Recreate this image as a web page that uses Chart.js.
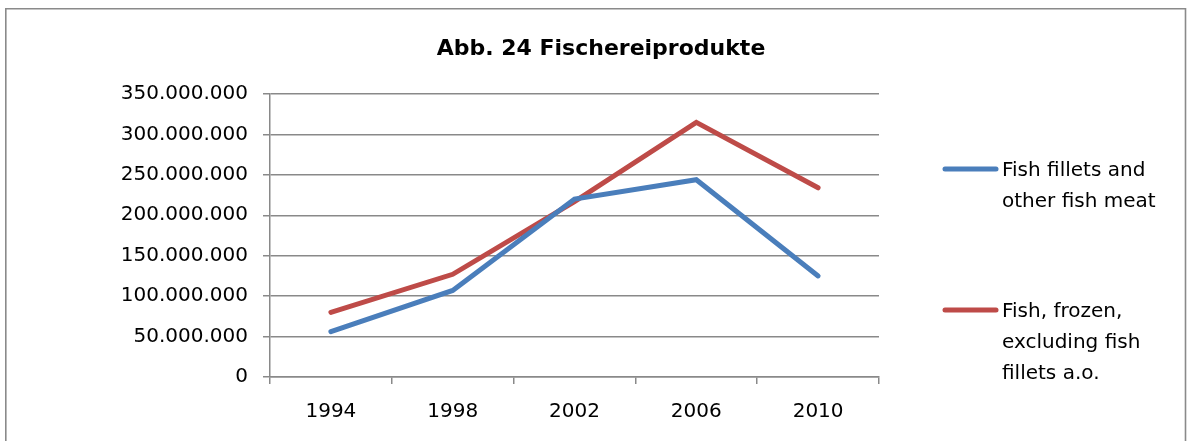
<!DOCTYPE html>
<html>
<head>
<meta charset="utf-8">
<script src="https://cdn.jsdelivr.net/npm/chart.js@4/dist/chart.umd.min.js"></script>
<style>
  html, body { margin: 0; padding: 0; background: #ffffff; }
  #wrap { width: 1189px; height: 441px; position: relative; }
</style>
</head>
<body>
<div id="wrap"><canvas id="c" width="1189" height="441"></canvas></div>
<script>
// ---- data ----
const categories = ['1994', '1998', '2002', '2006', '2010'];
const filletsValues = [56000000, 107000000, 220000000, 244000000, 125000000];
const frozenValues = [80000000, 127000000, 217000000, 315000000, 234000000];
const filletsLabel = ['Fish fillets and', 'other fish meat'];
const frozenLabel = ['Fish, frozen,', 'excluding fish', 'fillets a.o.'];
const titleText = 'Abb. 24 Fischereiprodukte';
const yMax = 350000000;
const yStep = 50000000;

const FONT = '"DejaVu Sans", "Liberation Sans", sans-serif';
const GRID = '#898989';

function fmt(v) {
  return String(Math.round(v)).replace(/\B(?=(\d{3})+(?!\d))/g, '.');
}

const decor = {
  id: 'decor',
  beforeDraw(chart) {
    const ctx = chart.ctx;
    ctx.save();
    ctx.fillStyle = '#ffffff';
    ctx.fillRect(0, 0, chart.width, chart.height);
    ctx.strokeStyle = '#8a8a8a';
    ctx.lineWidth = 1.6;
    ctx.beginPath();
    ctx.moveTo(5.8, 445);
    ctx.lineTo(5.8, 8.8);
    ctx.lineTo(1185.5, 8.8);
    ctx.lineTo(1185.5, 445);
    ctx.stroke();
    ctx.restore();
  },
  afterDraw(chart) {
    const ctx = chart.ctx;
    ctx.save();
    // title
    ctx.fillStyle = '#000000';
    ctx.font = 'bold 22px ' + FONT;
    ctx.textAlign = 'center';
    ctx.textBaseline = 'middle';
    ctx.fillText(titleText, 601, 49);
    // legend
    const items = [
      { lines: chart.data.datasets[0].label, color: chart.data.datasets[0].borderColor, y: 169 },
      { lines: chart.data.datasets[1].label, color: chart.data.datasets[1].borderColor, y: 310 }
    ];
    ctx.font = '20px ' + FONT;
    ctx.textAlign = 'left';
    items.forEach(it => {
      ctx.strokeStyle = it.color;
      ctx.lineWidth = 5;
      ctx.lineCap = 'round';
      ctx.beginPath();
      ctx.moveTo(945, it.y);
      ctx.lineTo(996, it.y);
      ctx.stroke();
      ctx.fillStyle = '#000000';
      it.lines.forEach((ln, i) => ctx.fillText(ln, 1002, it.y + 2 + i * 31));
    });
    ctx.restore();
  }
};

new Chart(document.getElementById('c'), {
  type: 'line',
  data: {
    labels: categories,
    datasets: [
      {
        label: filletsLabel,
        data: filletsValues,
        borderColor: '#4A7EBB',
        backgroundColor: '#4A7EBB',
        borderWidth: 5,
        pointRadius: 0,
        tension: 0,
        borderCapStyle: 'round',
        borderJoinStyle: 'miter'
      },
      {
        label: frozenLabel,
        data: frozenValues,
        borderColor: '#BE4B48',
        backgroundColor: '#BE4B48',
        borderWidth: 5,
        pointRadius: 0,
        tension: 0,
        borderCapStyle: 'round',
        borderJoinStyle: 'miter'
      }
    ]
  },
  options: {
    responsive: false,
    animation: false,
    devicePixelRatio: 1,
    layout: { padding: { top: 94, left: 10, right: 310, bottom: 0 } },
    plugins: {
      legend: { display: false },
      title: { display: false },
      tooltip: { enabled: false }
    },
    scales: {
      x: {
        type: 'category',
        offset: true,
        grid: {
          offset: true,
          drawOnChartArea: false,
          drawTicks: true,
          tickLength: 7,
          color: GRID,
          lineWidth: 1.5
        },
        border: { display: true, color: GRID, width: 1.5 },
        ticks: {
          color: '#000000',
          font: { family: FONT, size: 20 },
          padding: 16,
          maxRotation: 0
        },
        afterFit(scale) { scale.height = 64; }
      },
      y: {
        min: 0,
        max: yMax,
        grid: {
          drawTicks: true,
          tickLength: 7,
          color: GRID,
          lineWidth: 1.5
        },
        border: { display: true, color: GRID, width: 1.5 },
        ticks: {
          stepSize: yStep,
          color: '#000000',
          font: { family: FONT, size: 20 },
          padding: 15,
          callback: (v) => fmt(v)
        },
        afterFit(scale) { scale.width = 260; }
      }
    }
  },
  plugins: [decor]
});
</script>
</body>
</html>
